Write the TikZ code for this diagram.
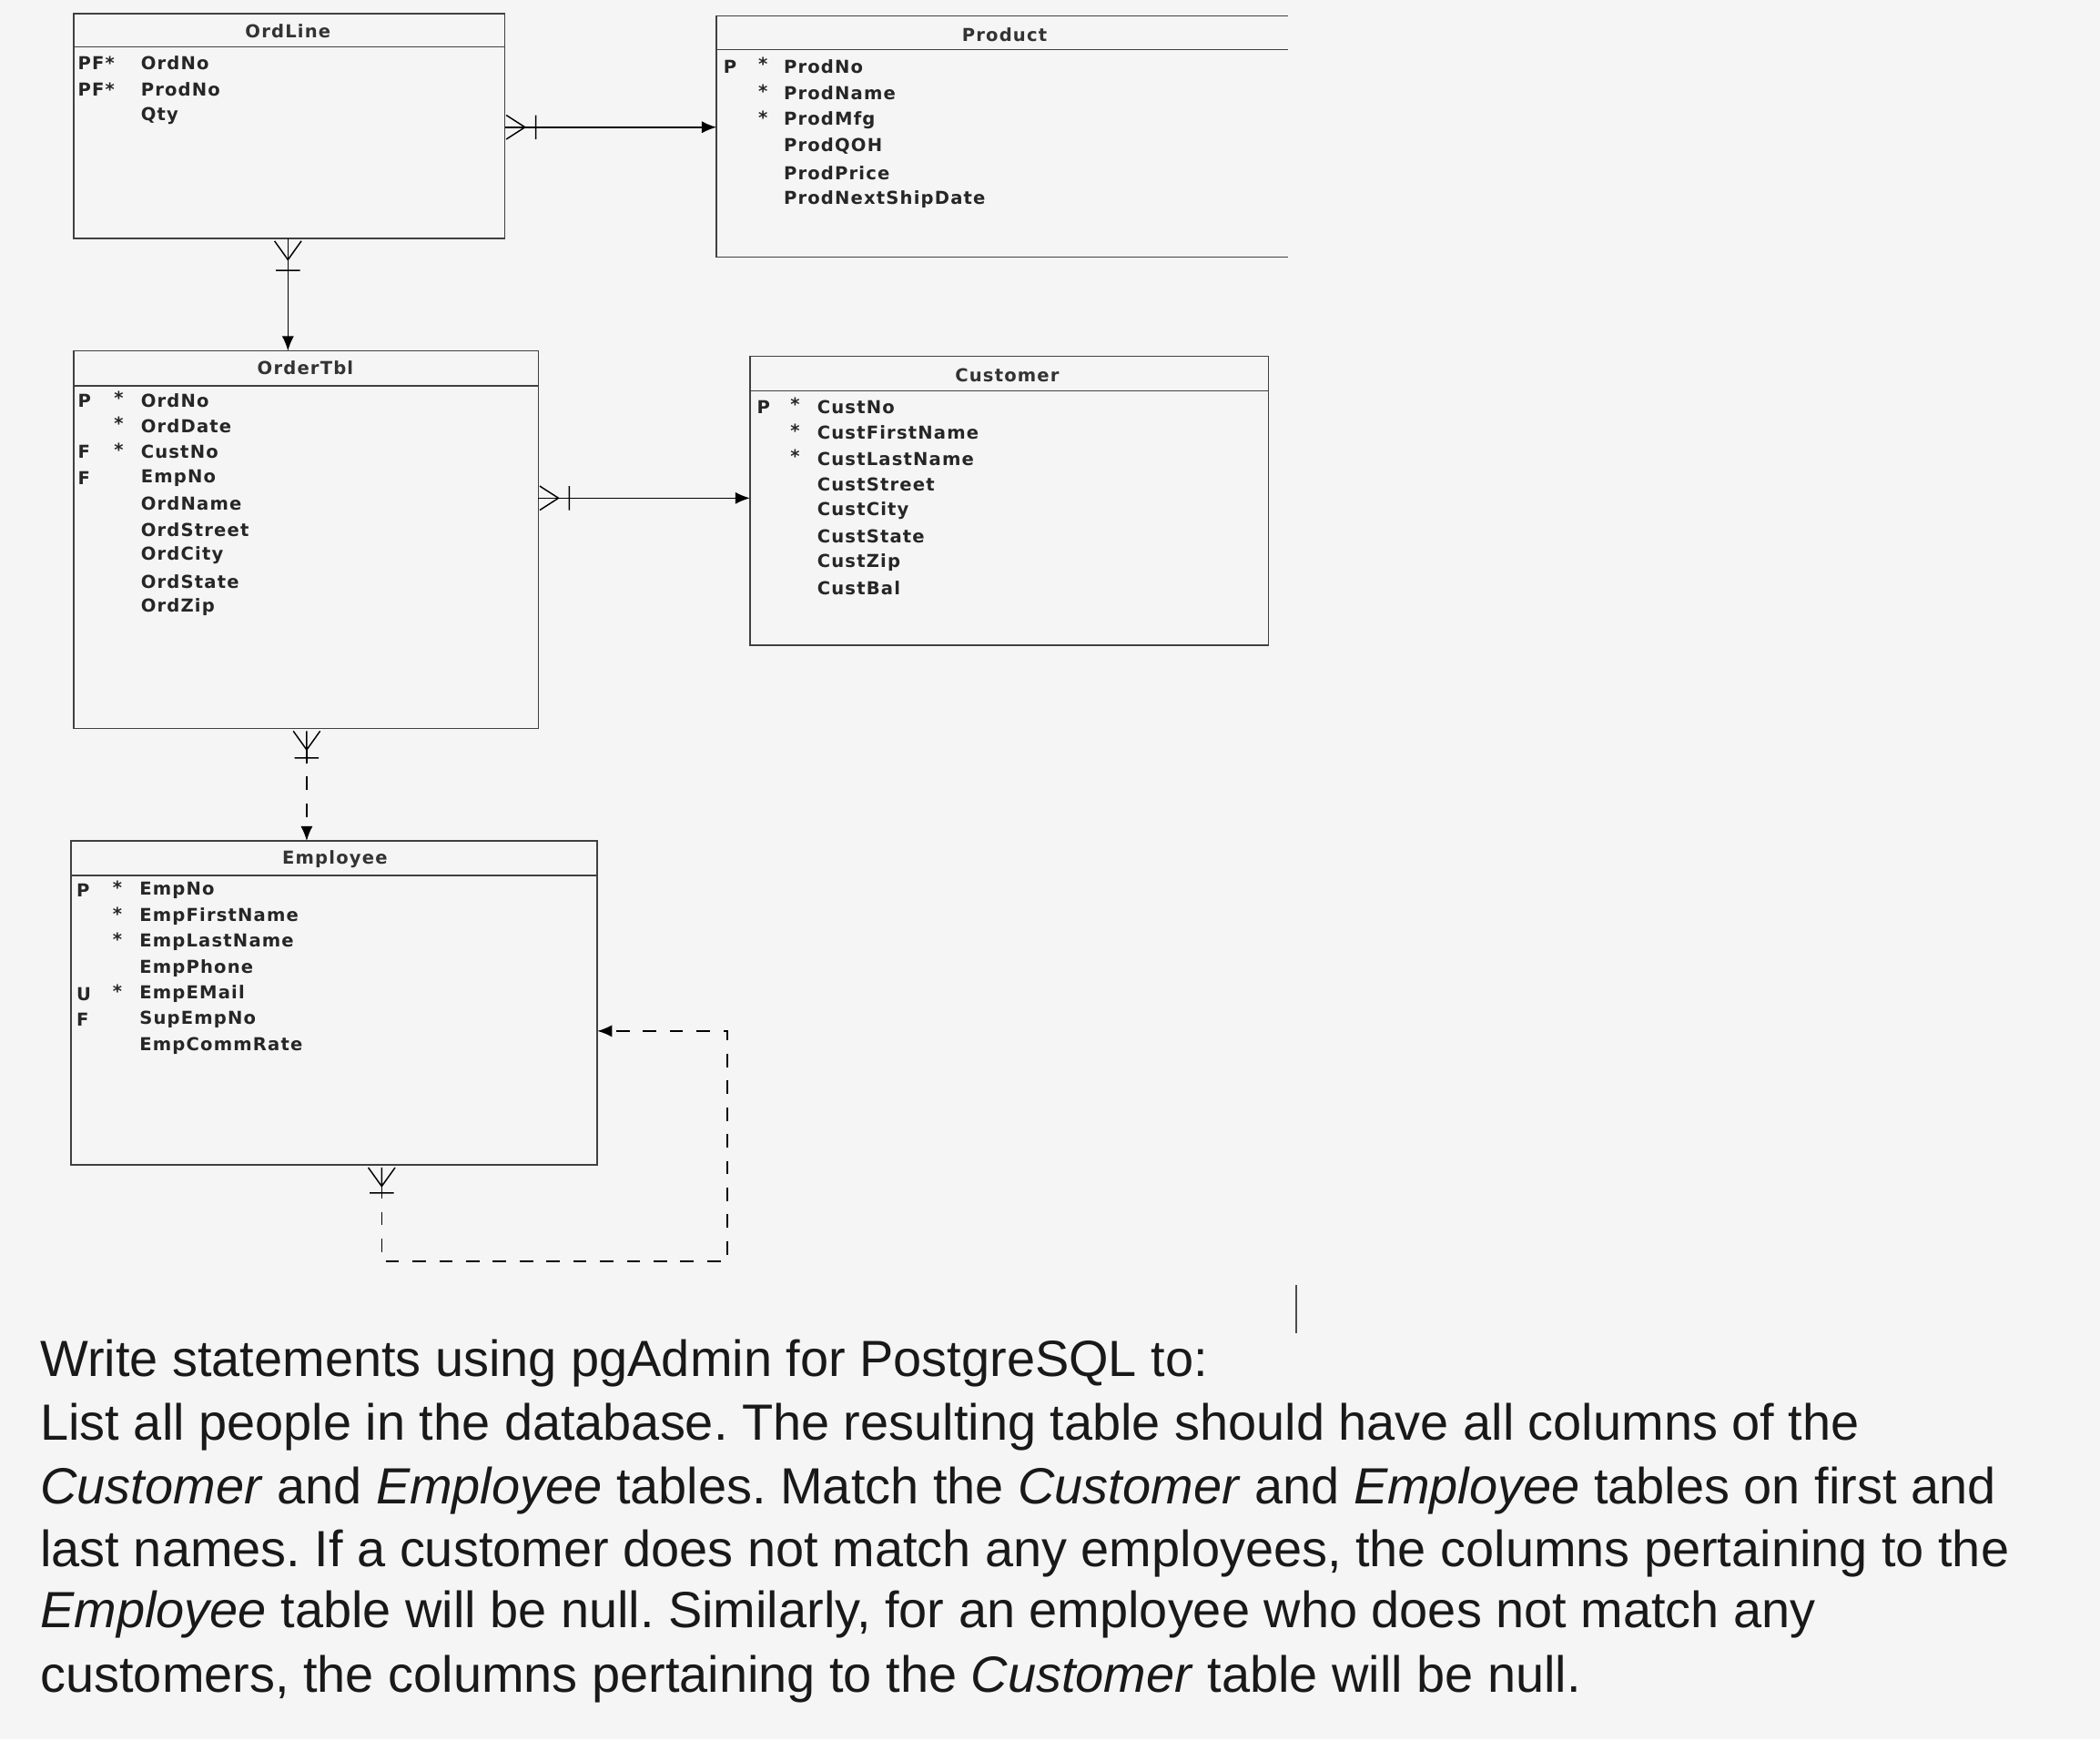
\documentclass[tikz,border=0pt]{standalone}
\usepackage{fontspec}
\setmainfont{Liberation Sans}
\newfontfamily\ercfont[LetterSpace=6]{DejaVu Sans}
\usetikzlibrary{arrows.meta}
\begin{document}
\frenchspacing
\begin{tikzpicture}[x=1pt,y=-1pt,
  tbl/.style={draw=black!75,line width=1.1pt},
  fld/.style={anchor=west,inner sep=0pt,font=\ercfont\fontsize{13.3}{15}\selectfont\bfseries,text=black!85},
  ttl/.style={inner sep=0pt,font=\ercfont\fontsize{13.3}{15}\selectfont\bfseries,text=black!80},
  rel/.style={line width=1.1pt,-{Latex[length=11pt,width=9pt]}},
  foot/.style={line width=1pt},
  para/.style={anchor=west,inner sep=0pt,font=\fontsize{38}{40}\selectfont,text=black!90}]
\fill[black!4] (0,0) rectangle (1568,1299);
\useasboundingbox (0,0) rectangle (1568,1299);
% OrdLine
\draw[tbl] (55,10) rectangle (377,178); \draw[tbl] (55,35) -- (377,35);
\node[ttl] (tOL) at (215,23) {OrdLine};
\foreach \k/\n [count=\i] in {PF*/OrdNo,PF*/ProdNo,/Qty}{
  \node[fld] at (58,47+19.8*\i-19.8) {\k};
  \node[fld] at (105,47+19.8*\i-19.8) {\n};}
% Product
\draw[tbl] (962,12) -- (535,12) -- (535,192) -- (962,192); \draw[tbl] (535,37) -- (962,37);
\node[ttl] (tPR) at (750,26) {Product};
\foreach \k/\d/\n [count=\i] in {P/*/ProdNo,/*/ProdName,/*/ProdMfg,//ProdQOH,//ProdPrice,//ProdNextShipDate}{
  \node[fld] at (540,50+19.8*\i-19.8) {\k};
  \node[fld] at (566,48+19.8*\i-19.8) {\d};
  \node[fld] at (585,50+19.8*\i-19.8) {\n};}
% OrderTbl
\draw[tbl] (55,262) rectangle (402,544); \draw[tbl] (55,288) -- (402,288);
\node[ttl] (tOT) at (228,275) {OrderTbl};
\foreach \k/\d/\n [count=\i] in {P/*/OrdNo,/*/OrdDate,F/*/CustNo,F//EmpNo,//OrdName,//OrdStreet,//OrdCity,//OrdState,//OrdZip}{
  \node[fld] at (58,299+19.3*\i-19.3) {\k};
  \node[fld] at (85,297+19.3*\i-19.3) {\d};
  \node[fld] at (105,299+19.3*\i-19.3) {\n};}
% Customer
\draw[tbl] (560,266) rectangle (947,482); \draw[tbl] (560,292) -- (947,292);
\node[ttl] (tCU) at (752,280) {Customer};
\foreach \k/\d/\n [count=\i] in {P/*/CustNo,/*/CustFirstName,/*/CustLastName,//CustStreet,//CustCity,//CustState,//CustZip,//CustBal}{
  \node[fld] at (565,304+19.3*\i-19.3) {\k};
  \node[fld] at (590,302+19.3*\i-19.3) {\d};
  \node[fld] at (610,304+19.3*\i-19.3) {\n};}
% Employee
\draw[tbl] (53,628) rectangle (446,870); \draw[tbl] (53,654) -- (446,654);
\node[ttl] (tEM) at (250,642) {Employee};
\foreach \k/\d/\n [count=\i] in {P/*/EmpNo,/*/EmpFirstName,/*/EmpLastName,//EmpPhone,U/*/EmpEMail,F//SupEmpNo,//EmpCommRate}{
  \node[fld] at (57,665+19.3*\i-19.3) {\k};
  \node[fld] at (84,663+19.3*\i-19.3) {\d};
  \node[fld] at (104,665+19.3*\i-19.3) {\n};}
% relationships
\coordinate (a1) at (377,95); \coordinate (a2) at (535,95);
\draw[rel] (a1) -- (a2);
\draw[foot] (378,86) -- (392,95) -- (378,104) (400,86) -- (400,104);
\coordinate (b1) at (215,178); \coordinate (b2) at (215,262);
\draw[rel] (b1) -- (b2);
\draw[foot] (205,180) -- (215,194) -- (225,180) (206,202) -- (224,202);
\coordinate (c1) at (402,372); \coordinate (c2) at (560,372);
\draw[rel] (c1) -- (c2);
\draw[foot] (403,363) -- (417,372) -- (403,381) (425,363) -- (425,381);
\coordinate (d1) at (229,560); \coordinate (d2) at (229,628);
\draw[rel,dash pattern=on 10pt off 10pt] (d1) -- (d2);
\draw[foot] (219,546) -- (229,560) -- (239,546) (220,566) -- (238,566) (229,546)--(229,560);
\coordinate (e1) at (285,885); \coordinate (e2) at (446,770);
\draw[rel,dash pattern=on 10pt off 10pt] (e1) -- (285,942) -- (543,942) -- (543,770) -- (e2);
\draw[foot] (275,872) -- (285,886) -- (295,872) (276,891) -- (294,891) (285,872)--(285,886);
\draw[line width=1.2pt,black!70] (968,960) -- (968,996);
% text
\node[para] at (30,1018) {Write statements using pgAdmin for PostgreSQL to:};
\node[para] at (30,1066) {List all people in the database. The resulting table should have all columns of the};
\node[para] at (30,1113) {\textit{Customer} and \textit{Employee} tables. Match the \textit{Customer} and \textit{Employee} tables on first and};
\node[para] at (30,1160) {last names. If a customer does not match any employees, the columns pertaining to the};
\node[para] at (30,1206) {\textit{Employee} table will be null. Similarly, for an employee who does not match any};
\node[para] at (30,1254) {customers, the columns pertaining to the \textit{Customer} table will be null.};
\end{tikzpicture}
\end{document}
